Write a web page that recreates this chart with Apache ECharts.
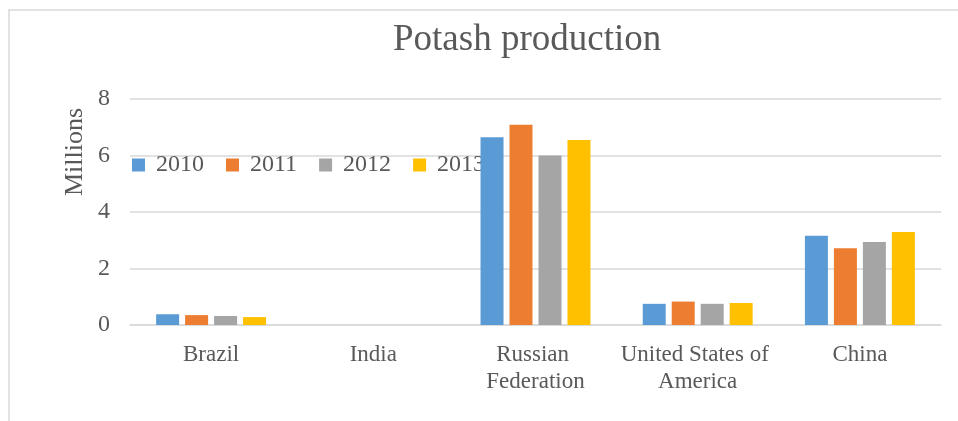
<!DOCTYPE html>
<html>
<head>
<meta charset="utf-8">
<script src="https://cdn.jsdelivr.net/npm/echarts@6/dist/echarts.min.js"></script>
<style>
html,body{margin:0;padding:0;background:#fff;}
#chart{width:958px;height:421px;}
</style>
</head>
<body>
<div id="chart"></div>
<script>
const categories = ['Brazil', 'India', 'Russian Federation', 'United States of America', 'China'];
const years = ['2010', '2011', '2012', '2013'];
const v2010 = [0.38, 0, 6.65, 0.75, 3.16];
const v2011 = [0.35, 0, 7.09, 0.83, 2.72];
const v2012 = [0.32, 0, 6.00, 0.75, 2.94];
const v2013 = [0.28, 0, 6.55, 0.78, 3.29];
const yTicks = [0, 2, 4, 6, 8];
const colors = ['#5B9BD5', '#ED7D31', '#A5A5A5', '#FFC000'];

const FONT = 'Liberation Serif, Times New Roman, serif';
const TXT = '#595959';
const chart = echarts.init(document.getElementById('chart'));
const seriesData = [v2010, v2011, v2012, v2013];

chart.setOption({
  animation: false,
  backgroundColor: '#fff',
  title: {
    text: 'Potash production',
    left: 388,
    top: 17,
    textStyle: { fontFamily: FONT, fontSize: 37, fontWeight: 'normal', color: TXT }
  },
  legend: {
    data: years,
    left: 132,
    top: 153,
    padding: 0,
    z: 1,
    icon: 'rect',
    itemWidth: 13,
    itemHeight: 13,
    itemGap: 22,
    textStyle: { fontFamily: FONT, fontSize: 24, color: TXT, padding: [0, 0, 0, 6] }
  },
  grid: { left: 130, right: 17, top: 99, bottom: 96, containLabel: false },
  xAxis: {
    type: 'category',
    data: categories,
    axisLine: { show: true, lineStyle: { color: '#d9d9d9', width: 1.5 } },
    axisTick: { show: false },
    axisLabel: {
      interval: 0,
      margin: 16,
      width: 158,
      overflow: 'break',
      lineHeight: 27,
      fontFamily: FONT, fontSize: 23, color: TXT
    }
  },
  yAxis: {
    type: 'value',
    min: yTicks[0],
    max: yTicks[yTicks.length - 1],
    interval: 2,
    axisLine: { show: false },
    axisTick: { show: false },
    splitLine: { lineStyle: { color: '#d9d9d9', width: 1.5 } },
    axisLabel: { margin: 20, fontFamily: FONT, fontSize: 24, color: TXT }
  },
  graphic: [
    {
      type: 'rect',
      shape: { x: 9, y: 10, width: 1000, height: 500 },
      style: { fill: 'none', stroke: '#d9d9d9', lineWidth: 1.5 },
      silent: true
    },
    {
      type: 'text',
      x: 75, y: 152,
      rotation: Math.PI / 2,
      style: {
        text: 'Millions',
        font: '26px ' + FONT,
        fill: TXT,
        textAlign: 'center',
        textVerticalAlign: 'middle'
      }
    }
  ],
  series: years.map((y, i) => ({
    name: y,
    type: 'bar',
    data: seriesData[i],
    barWidth: 23,
    barGap: '26%',
    itemStyle: { color: colors[i] }
  }))
});
</script>
</body>
</html>
